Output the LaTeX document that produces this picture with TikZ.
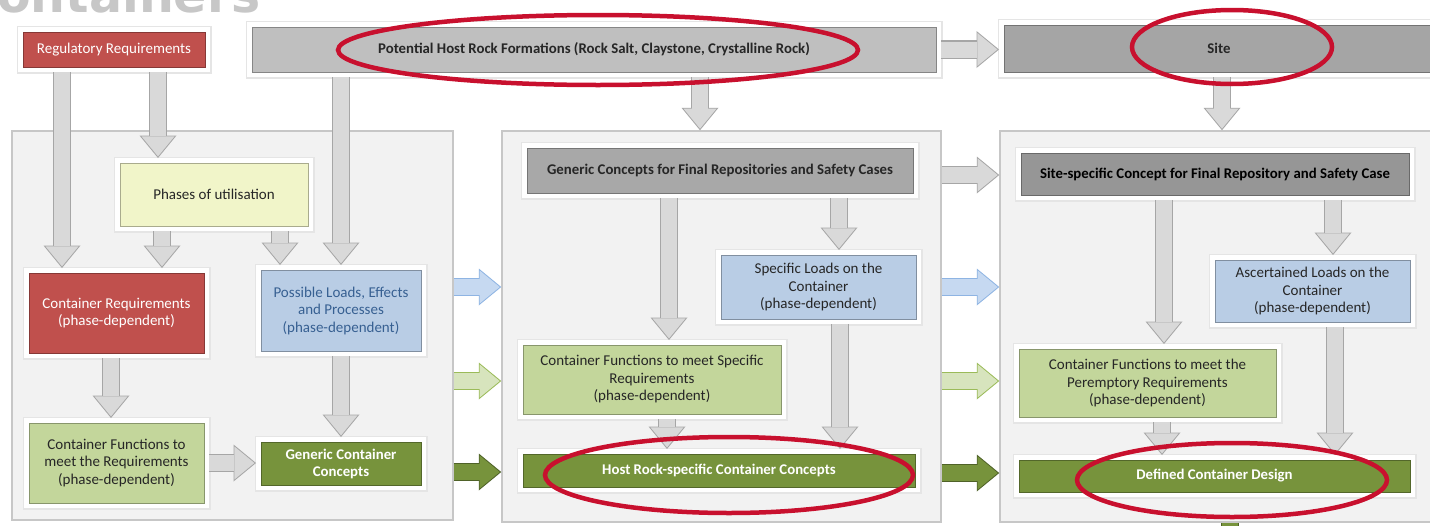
\documentclass[tikz,border=0pt]{standalone}
\usepackage{fontspec}
\setmainfont{Carlito}
\newfontfamily\titlefont{DejaVu Sans}
\usetikzlibrary{arrows.meta}

\definecolor{boxred}{HTML}{C0504D}
\definecolor{boxblue}{HTML}{B9CDE5}
\definecolor{boxlgreen}{HTML}{C3D69B}
\definecolor{boxdgreen}{HTML}{77933C}
\definecolor{boxyellow}{HTML}{F1F5C9}
\definecolor{boxgray}{HTML}{BFBFBF}
\definecolor{boxgrayd}{HTML}{A5A5A5}
\definecolor{boxgraym}{HTML}{A8A8A8}
\definecolor{boxgraydd}{HTML}{969696}
\definecolor{arrgray}{HTML}{D9D9D9}
\definecolor{arrgrayb}{HTML}{A6A6A6}
\definecolor{arrblue}{HTML}{C6D9F1}
\definecolor{arrblueb}{HTML}{8EB4E3}
\definecolor{arrlg}{HTML}{D7E4BD}
\definecolor{arrlgb}{HTML}{9BBB59}
\definecolor{arrdg}{HTML}{77933C}
\definecolor{arrdgb}{HTML}{4F6228}
\definecolor{ringred}{HTML}{C8102E}
\definecolor{bluetxt}{HTML}{376092}

\newcommand\boxfont{\fontsize{15}{17.5}\selectfont}
\newcommand\headfont{\fontsize{14.8}{17}\selectfont\bfseries}

\tikzset{
  panel/.style={draw=black!22, fill=black!5, line width=1.5pt, inner sep=0pt},
  box/.style={draw=#1!70!black, fill=#1, line width=0.8pt, inner sep=0pt, outer sep=5pt,
    align=center, text=black!85, font=\boxfont,
    preaction={draw=black!10, line width=13pt},
    preaction={draw=white, line width=10pt}},
  redb/.style={box=boxred, text=white},
  blueb/.style={box=boxblue},
  lgb/.style={box=boxlgreen},
  dgb/.style={box=boxdgreen, text=white, font=\headfont},
  grb/.style={box=#1, text=black!85, font=\headfont},
  blk/.style 2 args={draw=#1, line width=16pt,
    -{Triangle[width=33pt,length=20pt,line width=0pt]}, shorten >=1.6pt,
    preaction={draw=#2, line width=18.5pt, shorten >=0pt,
      -{Triangle[width=37pt,length=22.5pt,line width=0pt]}}},
  garr/.style={blk={arrgray}{arrgrayb}},
  barr/.style={blk={arrblue}{arrblueb}},
  lgarr/.style={blk={arrlg}{arrlgb}},
  dgarr/.style={blk={arrdg}{arrdgb}},
  ring/.style={draw=ringred, line width=4.5pt}
}

\begin{document}
\begin{tikzpicture}[x=1pt,y=-1pt]
\useasboundingbox (0,0) rectangle (1430,525);
\clip (0,0) rectangle (1430,525);
\fill[white] (0,0) rectangle (1430,525);

\node[anchor=base east, text=black!22, font={\titlefont\bfseries\fontsize{49}{51}\selectfont}] (title) at (264,12) {containers}; % обрезанный заголовок

% панели
\node[panel, minimum width=441pt, minimum height=389pt] (p1) at (232.5,325.5) {};
\node[panel, minimum width=439pt, minimum height=391pt] (p2) at (721.5,326.5) {};
\node[panel, minimum width=445pt, minimum height=391pt] (p3) at (1222.5,326.5) {};

% верхний ряд
\node[redb, minimum width=182pt, minimum height=35pt] (reg) at (114,49.5) {Regulatory Requirements};
\node[grb=boxgray, minimum width=684pt, minimum height=45pt] (pot) at (594,49.5) {Potential Host Rock Formations (Rock Salt, Claystone, Crystalline Rock)};
\node[grb=boxgrayd, minimum width=430pt, minimum height=47pt] (site) at (1219,48.5) {Site};

% панель 1
\node[box=boxyellow, minimum width=188pt, minimum height=63pt] (phases) at (214,194.5) {Phases of utilisation};
\node[redb, minimum width=175pt, minimum height=80pt] (creq) at (116.5,313) {Container Requirements\\(phase-dependent)};
\node[blueb, text=bluetxt, minimum width=160pt, minimum height=81pt] (loads) at (341,310.5) {Possible Loads, Effects\\and Processes\\(phase-dependent)};
\node[lgb, minimum width=175pt, minimum height=80pt] (cfun) at (116.5,463) {Container Functions to\\meet the Requirements\\(phase-dependent)};
\node[dgb, minimum width=160pt, minimum height=43pt] (gcc) at (341,463.5) {Generic Container\\Concepts};

% панель 2
\node[grb=boxgraym, minimum width=386pt, minimum height=45pt] (gen) at (720,170.5) {Generic Concepts for Final Repositories and Safety Cases};
\node[blueb, minimum width=195pt, minimum height=64pt] (sload) at (818.5,287) {Specific Loads on the\\Container\\(phase-dependent)};
\node[lgb, minimum width=258pt, minimum height=69pt] (sfun) at (652,379.5) {Container Functions to meet Specific\\Requirements\\(phase-dependent)};
\node[dgb, minimum width=392pt, minimum height=33pt] (hrcc) at (719,470.5) {Host Rock-specific Container Concepts};

% панель 3
\node[grb=boxgraydd, text=black, minimum width=388pt, minimum height=42pt] (ssc) at (1215,174) {Site-specific Concept for Final Repository and Safety Case};
\node[blueb, minimum width=195pt, minimum height=62pt] (aload) at (1312.5,291) {Ascertained Loads on the\\Container\\(phase-dependent)};
\node[lgb, minimum width=257pt, minimum height=68pt] (pfun) at (1147.5,383) {Container Functions to meet the\\Peremptory Requirements\\(phase-dependent)};
\node[dgb, minimum width=391pt, minimum height=32pt] (dcd) at (1214.5,476) {Defined Container Design};

% стрелки сверху
\draw[garr] (pot.east) -- (site.west |- pot.east);
\draw[garr] (pot.south -| 700,0) -- (p2.north -| 700,0);
\draw[garr] (site.south -| 1222,0) -- (p3.north -| 1222,0);
\draw[garr] (reg.south -| 62,0) -- (creq.north -| 62,0);
\draw[garr] (reg.south -| 158,0) -- (phases.north -| 158,0);
\draw[garr] (pot.south -| 341,0) -- (loads.north -| 341,0);

% стрелки панели 1
\draw[garr] (phases.south -| 162,0) -- (creq.north -| 162,0);
\draw[garr] (phases.south -| 280,0) -- (loads.north -| 280,0);
\draw[garr] (creq.south -| 111,0) -- (cfun.north -| 111,0);
\draw[garr] (loads.south) -- (gcc.north);
\draw[garr] (cfun.east) -- (gcc.west |- cfun.east);

% стрелки панели 2
\draw[garr] (gen.south -| 669,0) -- (sfun.north -| 669,0);
\draw[garr] (gen.south -| 839,0) -- (sload.north -| 839,0);
\draw[garr] (sfun.south -| 667,0) -- (hrcc.north -| 667,0);
\draw[garr] (sload.south -| 840,0) -- (hrcc.north -| 840,0);

% стрелки панели 3
\draw[garr] (ssc.south -| 1164,0) -- (pfun.north -| 1164,0);
\draw[garr] (ssc.south -| 1333,0) -- (aload.north -| 1333,0);
\draw[garr] (pfun.south -| 1162,0) -- (dcd.north -| 1162,0);
\draw[garr] (aload.south -| 1335,0) -- (dcd.north -| 1335,0);

% между панелями
\draw[barr] (p1.east |- 0,287) -- (p2.west |- 0,287);
\draw[lgarr] (p1.east |- 0,381) -- (p2.west |- 0,381);
\draw[dgarr] (p1.east |- 0,472) -- (p2.west |- 0,472);
\draw[garr] (p2.east |- 0,175) -- (p3.west |- 0,175);
\draw[barr] (p2.east |- 0,287) -- (p3.west |- 0,287);
\draw[lgarr] (p2.east |- 0,381) -- (p3.west |- 0,381);
\draw[dgarr] (p2.east |- 0,473) -- (p3.west |- 0,473);
\coordinate (out) at (1230,570);
\draw[dgarr] (p3.south -| out) -- (out); % выход вниз

% красные овалы
\draw[ring] (598,50) ellipse [x radius=260pt, y radius=35pt];
\draw[ring] (1232,47) ellipse [x radius=100pt, y radius=37pt];
\draw[ring] (729,475) ellipse [x radius=184pt, y radius=38pt];
\draw[ring] (1232,480) ellipse [x radius=155pt, y radius=37pt];

\end{tikzpicture}
\end{document}
